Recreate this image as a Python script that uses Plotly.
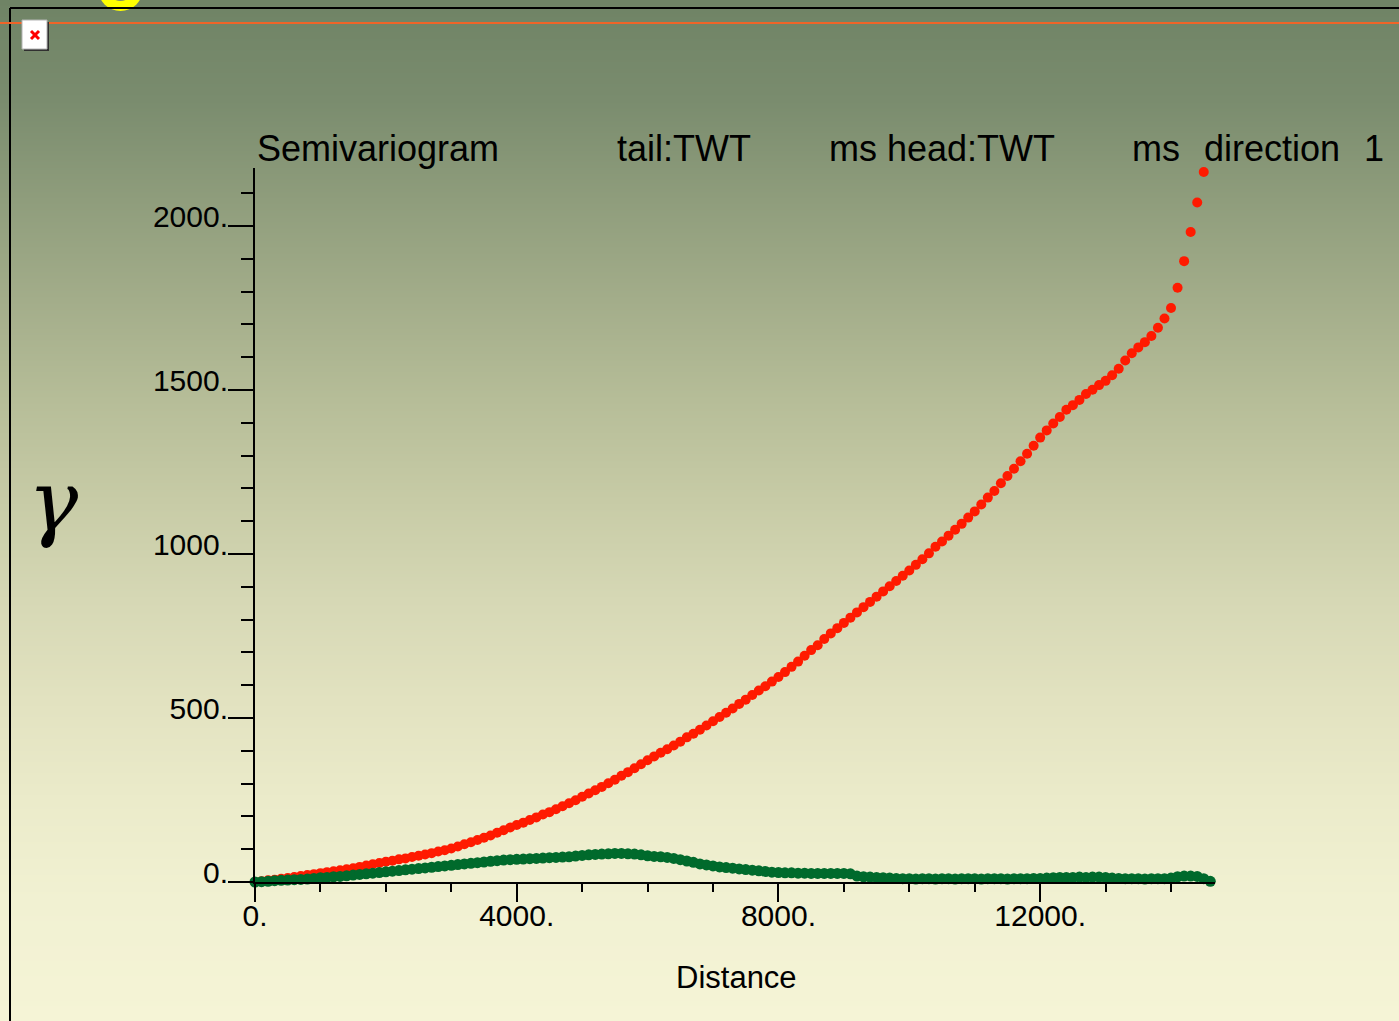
import base64
import struct
import zlib

import plotly.graph_objects as go

# ---- semivariogram data (lag distance vs. gamma) ----
red_lags = list(range(0, 14600, 100))
red_gamma = [
    0, 2, 5, 7, 10, 12, 15, 18, 21, 24,
    27, 30, 33, 36, 39, 42, 46, 50, 54, 58,
    62, 65, 69, 72, 76, 80, 84, 88, 93, 97,
    102, 108, 115, 121, 128, 135, 142, 150, 158, 166,
    174, 181, 189, 197, 206, 213, 222, 231, 240, 249,
    260, 270, 280, 290, 301, 312, 324, 335, 347, 359,
    371, 383, 394, 405, 416, 428, 441, 452, 464, 477,
    490, 503, 516, 529, 543, 556, 570, 584, 597, 611,
    625, 640, 656, 672, 690, 707, 722, 741, 758, 774,
    790, 806, 822, 838, 854, 870, 886, 902, 918, 934,
    950, 967, 984, 1002, 1022, 1038, 1056, 1074, 1092, 1111,
    1130, 1151, 1172, 1192, 1216, 1238, 1260, 1283, 1306, 1330,
    1355, 1377, 1398, 1418, 1440, 1454, 1470, 1488, 1501, 1515,
    1528, 1545, 1565, 1590, 1612, 1630, 1646, 1665, 1690, 1718,
    1750, 1812, 1893, 1982, 2072, 2165,
]

green_lags = list(range(0, 14700, 100))
green_gamma = [
    0, 1, 2, 4, 5, 6, 7, 8, 9, 11,
    13, 14, 16, 17, 19, 21, 23, 25, 27, 29,
    31, 33, 35, 37, 39, 41, 43, 45, 47, 49,
    51, 53, 55, 57, 59, 61, 63, 65, 67, 68,
    69, 70, 71, 72, 73, 74, 75, 76, 77, 79,
    81, 83, 84, 85, 86, 87, 87, 86, 85, 83,
    80, 78, 77, 75, 72, 68, 64, 60, 55, 52,
    49, 46, 44, 42, 40, 38, 36, 34, 32, 30,
    29, 28, 28, 27, 27, 26, 26, 26, 26, 26,
    26, 25, 18, 16, 15, 14, 13, 12, 11, 10,
    10, 9, 10, 10, 9, 10, 10, 9, 10, 10,
    10, 9, 10, 10, 10, 9, 10, 10, 10, 11,
    11, 12, 13, 14, 14, 14, 15, 14, 15, 15,
    14, 12, 11, 10, 10, 10, 9, 10, 10, 10,
    12, 16, 18, 18, 17, 10, 2,
]

y_ticks = [0, 500, 1000, 1500, 2000]
y_tick_text = ["0.", "500.", "1000.", "1500.", "2000."]
x_ticks = [0, 4000, 8000, 12000]
x_tick_text = ["0.", "4000.", "8000.", "12000."]

title_parts = [
    ("Semivariogram", 378),
    ("tail:TWT", 684),
    ("ms head:TWT", 942),
    ("ms", 1156),
    ("direction", 1272),
    ("1", 1374),
]

W, H = 1399, 1021


def px(x):
    return x / W


def py(y):
    return 1 - y / H


# ---- vertical background gradient as an inline PNG ----
stops = [
    (0, (111, 131, 101)),
    (100, (122, 140, 110)),
    (200, (143, 157, 124)),
    (300, (163, 173, 138)),
    (400, (182, 189, 152)),
    (500, (199, 203, 166)),
    (600, (214, 216, 181)),
    (700, (226, 226, 192)),
    (800, (235, 235, 202)),
    (900, (241, 241, 210)),
    (1021, (245, 244, 214)),
]


def shade(y):
    for (y0, c0), (y1, c1) in zip(stops[:-1], stops[1:]):
        if y0 <= y <= y1:
            t = (y - y0) / (y1 - y0)
            return tuple(int(round(a + (b - a) * t)) for a, b in zip(c0, c1))
    return stops[-1][1]


def gradient_png(width, height):
    raw = b""
    for y in range(height):
        r, g, b = shade(y)
        raw += b"\x00" + bytes([r, g, b]) * width

    def chunk(tag, data):
        c = struct.pack(">I", len(data)) + tag + data
        return c + struct.pack(">I", zlib.crc32(tag + data) & 0xFFFFFFFF)

    png = b"\x89PNG\r\n\x1a\n"
    png += chunk(b"IHDR", struct.pack(">IIBBBBB", width, height, 8, 2, 0, 0, 0))
    png += chunk(b"IDAT", zlib.compress(raw, 9))
    png += chunk(b"IEND", b"")
    return "data:image/png;base64," + base64.b64encode(png).decode()


fig = go.Figure()

fig.add_trace(go.Scatter(
    x=red_lags, y=red_gamma, mode="markers",
    marker=dict(color="#ff1a00", size=10, line=dict(width=0)),
    cliponaxis=False, hoverinfo="x+y",
))
fig.add_trace(go.Scatter(
    x=green_lags, y=green_gamma, mode="markers",
    marker=dict(color="#006a2c", size=11, line=dict(width=0)),
    cliponaxis=False, hoverinfo="x+y",
))

tick_font = dict(family="Liberation Sans, Arial, sans-serif", size=30, color="black")

fig.update_xaxes(
    domain=[px(255), px(1215)],
    range=[0, 14672],
    automargin=False,
    showgrid=False, zeroline=False,
    showline=True, linecolor="black", linewidth=2,
    ticks="outside", ticklen=18, tickwidth=2, tickcolor="black",
    tickvals=x_ticks, ticktext=x_tick_text, tickfont=tick_font,
    ticklabelstandoff=-12,
    minor=dict(ticks="outside", ticklen=8, tickwidth=2, tickcolor="black",
               dtick=1000, showgrid=False),
)
fig.update_yaxes(
    domain=[py(882), py(168)],
    range=[0, 2177],
    automargin=False,
    showgrid=False, zeroline=False,
    showline=True, linecolor="black", linewidth=2,
    ticks="outside", ticklen=25, tickwidth=2, tickcolor="black",
    tickvals=y_ticks, ticktext=y_tick_text, tickfont=tick_font,
    ticklabelshift=-10, ticklabelstandoff=-6,
    minor=dict(ticks="outside", ticklen=12, tickwidth=2, tickcolor="black",
               dtick=100, showgrid=False),
)

annotations = []
for text, cx in title_parts:
    annotations.append(dict(
        text=text, x=px(cx), y=py(148), xref="paper", yref="paper",
        xanchor="center", yanchor="middle", showarrow=False,
        font=dict(family="Liberation Sans, Arial, sans-serif", size=36, color="black"),
    ))
annotations.append(dict(
    text="Distance", x=px(737), y=py(977), xref="paper", yref="paper",
    xanchor="center", yanchor="middle", showarrow=False,
    font=dict(family="Liberation Sans, Arial, sans-serif", size=31, color="black"),
))
annotations.append(dict(
    text="γ", x=px(53), y=py(501), xref="paper", yref="paper",
    xanchor="center", yanchor="middle", showarrow=False,
    font=dict(family="DejaVu Serif, serif", size=84,
              color="black", style="italic"),
))

shapes = [
    # yellow ring peeking in at the top edge
    dict(type="circle", xref="paper", yref="paper",
         x0=px(98), x1=px(143), y0=py(11), y1=py(-34),
         fillcolor="#ffff00", line=dict(width=0), layer="above"),
    dict(type="circle", xref="paper", yref="paper",
         x0=px(108), x1=px(133), y0=py(1), y1=py(-24),
         fillcolor="#7a8a6c", line=dict(width=0), layer="above"),
    # frame
    dict(type="line", xref="paper", yref="paper",
         x0=px(10), x1=1, y0=py(8), y1=py(8),
         line=dict(color="black", width=2)),
    dict(type="line", xref="paper", yref="paper",
         x0=px(10), x1=px(10), y0=py(8), y1=0,
         line=dict(color="black", width=2)),
    # orange rule
    dict(type="line", xref="paper", yref="paper",
         x0=0, x1=1, y0=py(23), y1=py(23),
         line=dict(color="#f06428", width=2)),
    # small close icon
    dict(type="rect", xref="paper", yref="paper",
         x0=px(24), x1=px(49), y0=py(51), y1=py(22),
         fillcolor="#303030", line=dict(width=0)),
    dict(type="rect", xref="paper", yref="paper",
         x0=px(22), x1=px(47), y0=py(49), y1=py(20),
         fillcolor="white", line=dict(color="#b4b4b4", width=1)),
    dict(type="line", xref="paper", yref="paper",
         x0=px(31), x1=px(39), y0=py(31), y1=py(39),
         line=dict(color="#ff0000", width=3)),
    dict(type="line", xref="paper", yref="paper",
         x0=px(31), x1=px(39), y0=py(39), y1=py(31),
         line=dict(color="#ff0000", width=3)),
]

fig.update_layout(
    width=W, height=H,
    margin=dict(l=0, r=0, t=0, b=0, autoexpand=False),
    paper_bgcolor="#f3f2d4",
    plot_bgcolor="rgba(0,0,0,0)",
    showlegend=False,
    annotations=annotations,
    shapes=shapes,
    images=[dict(
        source=gradient_png(2, H),
        xref="paper", yref="paper", x=0, y=1, sizex=1, sizey=1,
        xanchor="left", yanchor="top", sizing="stretch", layer="below",
    )],
)

fig.write_html("out.html")
